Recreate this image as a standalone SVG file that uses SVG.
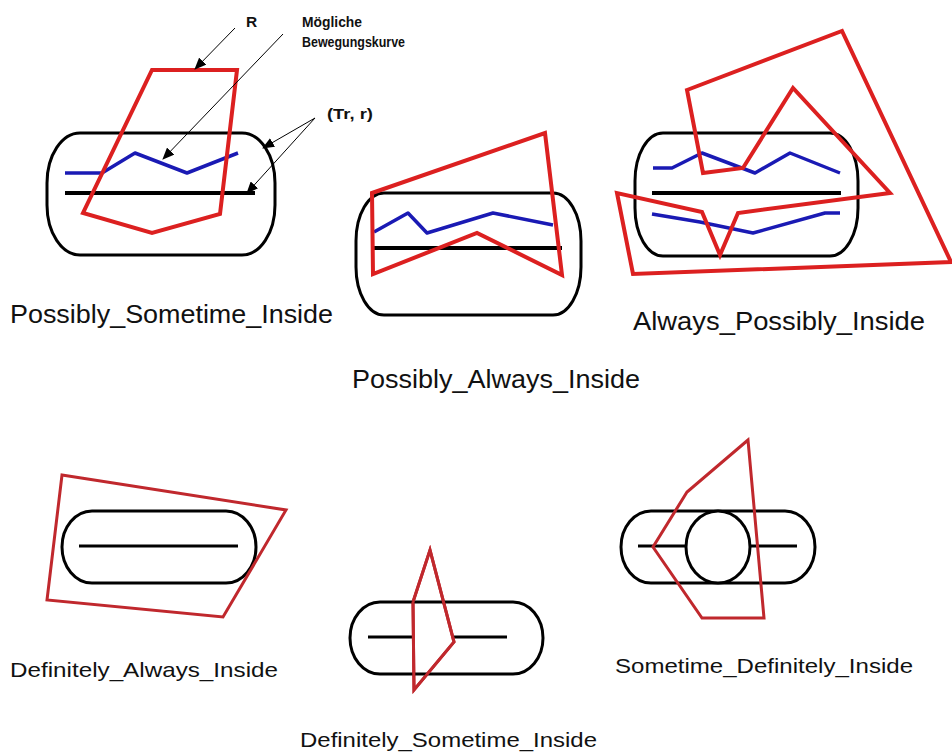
<svg xmlns="http://www.w3.org/2000/svg" width="952" height="756" viewBox="0 0 952 756">
<style>
.cap{fill:none;stroke:#000;stroke-width:3}
.capw{fill:#fff;stroke:#000;stroke-width:3}
.mid{stroke:#000;stroke-width:4;fill:none}
.mid2{stroke:#000;stroke-width:3;fill:none}
.blue{stroke:#1a1ab4;stroke-width:3.5;fill:none;stroke-linejoin:round}
.red{stroke:#dc2020;stroke-width:4;fill:none;stroke-linejoin:miter}
.red2{stroke:#c0282d;stroke-width:3;fill:none;stroke-linejoin:miter}
.red2w{stroke:#c0282d;stroke-width:3;fill:#fff;stroke-linejoin:miter}
.lbl{font-family:"Liberation Sans",Arial,sans-serif;font-size:26px;fill:#111}
.lbl2{font-family:"Liberation Sans",Arial,sans-serif;font-size:21px;fill:#111}
.ann{font-family:"Liberation Sans",Arial,sans-serif;font-size:15.5px;font-weight:bold;fill:#111}
.arr{stroke:#000;stroke-width:1;fill:none;marker-end:url(#ah)}
</style>
<defs>
<marker id="ah" markerWidth="12" markerHeight="10" refX="11" refY="5" orient="auto" markerUnits="userSpaceOnUse">
<path d="M0,0 L12,5 L0,10 Z" fill="#000"/>
</marker>
</defs>
<rect width="952" height="756" fill="#fff"/>

<g id="possibly-sometime-inside">
<rect class="cap" x="47" y="133" width="228" height="122" rx="33" ry="50"/>
<line class="mid" x1="65" y1="193" x2="255" y2="193"/>
<polyline class="blue" points="65,173 102,173 135,153 187,173 238,153"/>
<polygon class="red" points="152,70 237,70 220,214 152,233 83,213"/>
<text class="lbl" x="10" y="323" textLength="323" lengthAdjust="spacingAndGlyphs">Possibly_Sometime_Inside</text>
</g>

<g id="possibly-always-inside">
<rect class="cap" x="356" y="193" width="225" height="122" rx="28" ry="48"/>
<line class="mid" x1="373" y1="248" x2="562" y2="248"/>
<polyline class="blue" points="374,232 408,213 427,233 493,213 553,225"/>
<polygon class="red" points="372,193 545,133 562,275 477,233 373,274"/>
<text class="lbl" x="352" y="388" textLength="288" lengthAdjust="spacingAndGlyphs">Possibly_Always_Inside</text>
</g>

<g id="always-possibly-inside">
<rect class="cap" x="635" y="133" width="223" height="123" rx="28" ry="48"/>
<line class="mid" x1="652" y1="193" x2="841" y2="193"/>
<polyline class="blue" points="653,168 672,168 702,153 755,173 790,153 840,173"/>
<polyline class="blue" points="652,214 700,222 753,233 825,213 840,213"/>
<polygon class="red" points="687,90 842,31 951,262 633,274 617,193 702,212 720,255 738,213 890,193 793,88 743,168 703,173"/>
<text class="lbl" x="633" y="330" textLength="292" lengthAdjust="spacingAndGlyphs">Always_Possibly_Inside</text>
</g>

<g id="definitely-always-inside">
<rect class="cap" x="62" y="511" width="194" height="72" rx="30" ry="36"/>
<line class="mid2" x1="79" y1="546" x2="238" y2="546"/>
<polygon class="red2" points="62,475 286,510 223,617 47,600"/>
<text class="lbl2" x="10" y="677" textLength="268" lengthAdjust="spacingAndGlyphs">Definitely_Always_Inside</text>
</g>

<g id="definitely-sometime-inside">
<line class="mid2" x1="368" y1="637" x2="507" y2="637"/>
<polygon class="red2w" points="430,550 454,642 414,690 413,602"/>
<rect class="cap" x="350" y="602" width="193" height="72" rx="30" ry="36"/>
<polyline class="red2" points="413,602 430,550 454,642 414,690 413,602"/>
<text class="lbl2" x="300" y="747" textLength="297" lengthAdjust="spacingAndGlyphs">Definitely_Sometime_Inside</text>
</g>

<g id="sometime-definitely-inside">
<rect class="cap" x="621" y="511" width="194" height="72" rx="30" ry="36"/>
<line class="mid2" x1="638" y1="546" x2="797" y2="546"/>
<ellipse class="capw" cx="718" cy="547" rx="32" ry="36"/>
<polygon class="red2" points="748,440 687,492 653,547 702,618 764,618"/>
<text class="lbl2" x="615" y="673" textLength="298" lengthAdjust="spacingAndGlyphs">Sometime_Definitely_Inside</text>
</g>

<g id="annotations">
<text class="ann" x="246" y="27">R</text>
<text class="ann" x="302" y="27" textLength="60" lengthAdjust="spacingAndGlyphs">Mögliche</text>
<text class="ann" x="302" y="47" textLength="103" lengthAdjust="spacingAndGlyphs">Bewegungskurve</text>
<text class="ann" x="327" y="119" textLength="46" lengthAdjust="spacingAndGlyphs">(Tr, r)</text>
</g>

<g id="connectors">
<line class="arr" x1="235" y1="28" x2="195" y2="69"/>
<line class="arr" x1="283" y1="34" x2="163" y2="159"/>
<line class="arr" x1="315" y1="118" x2="263" y2="148"/>
<line class="arr" x1="315" y1="118" x2="247" y2="193"/>
</g>
</svg>
